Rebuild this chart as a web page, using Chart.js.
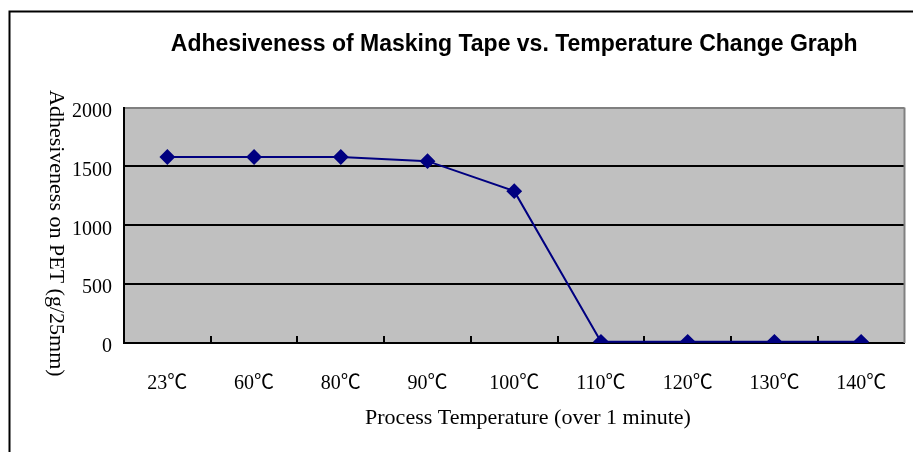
<!DOCTYPE html>
<html>
<head>
<meta charset="utf-8">
<script src="https://cdn.jsdelivr.net/npm/chart.js@4.4.1/dist/chart.umd.min.js"></script>
<style>
  html, body { margin: 0; padding: 0; background: #fff; }
</style>
</head>
<body>
<canvas id="tapeChart" width="913" height="452"></canvas>
<script>
// data
const temperatures = ['23℃', '60℃', '80℃', '90℃', '100℃', '110℃', '120℃', '130℃', '140℃'];
const adhesiveness = [1580, 1580, 1580, 1545, 1290, 10, 10, 10, 10];
const yMin = 0, yMax = 2000, yStep = 500;

const chartTitle = 'Adhesiveness of Masking Tape vs. Temperature Change Graph';
const xTitle = 'Process Temperature (over 1 minute)';
const yTitle = 'Adhesiveness on PET (g/25mm)';

const serif = "'Liberation Serif', 'Noto Sans CJK TC', serif";

//outer frame, plot background, inner tick marks, axis titles
const decorPlugin = {
  id: 'decor',
  beforeDraw(chart) {
    const { ctx, chartArea: a } = chart;
    ctx.save();
    ctx.fillStyle = '#fff';
    ctx.fillRect(0, 0, chart.width, chart.height);
    ctx.strokeStyle = '#000';
    ctx.lineWidth = 2;
    ctx.beginPath();
    ctx.moveTo(9.5, chart.height);
    ctx.lineTo(9.5, 11.5);
    ctx.lineTo(chart.width, 11.5);
    ctx.stroke();
    ctx.fillStyle = '#c0c0c0';
    ctx.fillRect(a.left, a.top, a.right - a.left, a.bottom - a.top);
    ctx.restore();
  },
  beforeDatasetsDraw(chart) {
    const { ctx, chartArea: a } = chart;
    const xs = chart.scales.x;
    ctx.save();
    // gray right border
    ctx.strokeStyle = '#808080';
    ctx.lineWidth = 2;
    ctx.beginPath();
    ctx.moveTo(a.right, a.top);
    ctx.lineTo(a.right, a.bottom);
    ctx.stroke();
    // small tick marks between categories, pointing inward
    const half = (xs.getPixelForValue(1) - xs.getPixelForValue(0)) / 2;
    ctx.strokeStyle = '#000';
    ctx.beginPath();
    for (let i = 1; i < temperatures.length; i++) {
      const x = Math.round(xs.getPixelForValue(i) - half);
      ctx.moveTo(x, a.bottom);
      ctx.lineTo(x, a.bottom - 7);
    }
    ctx.stroke();
    ctx.restore();
  },
  afterDraw(chart) {
    const { ctx, chartArea: a } = chart;
    ctx.save();
    ctx.fillStyle = '#000';
    ctx.font = "22px " + serif;
    ctx.textAlign = 'center';
    ctx.textBaseline = 'middle';
    ctx.fillText(xTitle, 528, 418);
    ctx.translate(56, (a.top + a.bottom) / 2 + 8);
    ctx.rotate(Math.PI / 2);
    ctx.fillText(yTitle, 0, 0);
    ctx.restore();
  }
};

new Chart(document.getElementById('tapeChart'), {
  type: 'line',
  data: {
    labels: temperatures,
    datasets: [{
      data: adhesiveness,
      borderColor: '#000080',
      backgroundColor: '#000080',
      borderWidth: 2,
      pointStyle: 'rectRot',
      pointRadius: 6.5,
      pointBackgroundColor: '#000080',
      pointBorderColor: '#000080',
      tension: 0
    }]
  },
  options: {
    responsive: false,
    animation: false,
    layout: { padding: { top: 0, right: 4, bottom: 0, left: 0 } },
    plugins: {
      legend: { display: false },
      tooltip: { enabled: false },
      title: {
        display: true,
        text: chartTitle,
        fullSize: false,
        color: '#000',
        font: { family: "'Liberation Sans', Arial, sans-serif", size: 23, weight: 'bold' },
        padding: { top: 31, bottom: 49 }
      }
    },
    scales: {
      x: {
        offset: true,
        afterFit: s => { s.height = 109; s.paddingLeft = 0; s.paddingRight = 0; },
        grid: { display: true, drawOnChartArea: false, drawTicks: false },
        border: { display: true, color: '#000', width: 2 },
        ticks: { color: '#000', padding: 29, font: { family: serif, size: 20 } }
      },
      y: {
        min: yMin,
        max: yMax,
        afterFit: s => { s.width = 124; },
        grid: {
          drawTicks: false,
          lineWidth: 2,
          color: c => c.tick.value === yMax ? '#808080' : '#000'
        },
        border: { display: true, color: '#000', width: 2 },
        ticks: {
          stepSize: yStep,
          color: '#000',
          padding: 12,
          labelOffset: 4,
          font: { family: serif, size: 20 },
          callback: v => String(v)
        }
      }
    }
  },
  plugins: [decorPlugin]
});
</script>
</body>
</html>
